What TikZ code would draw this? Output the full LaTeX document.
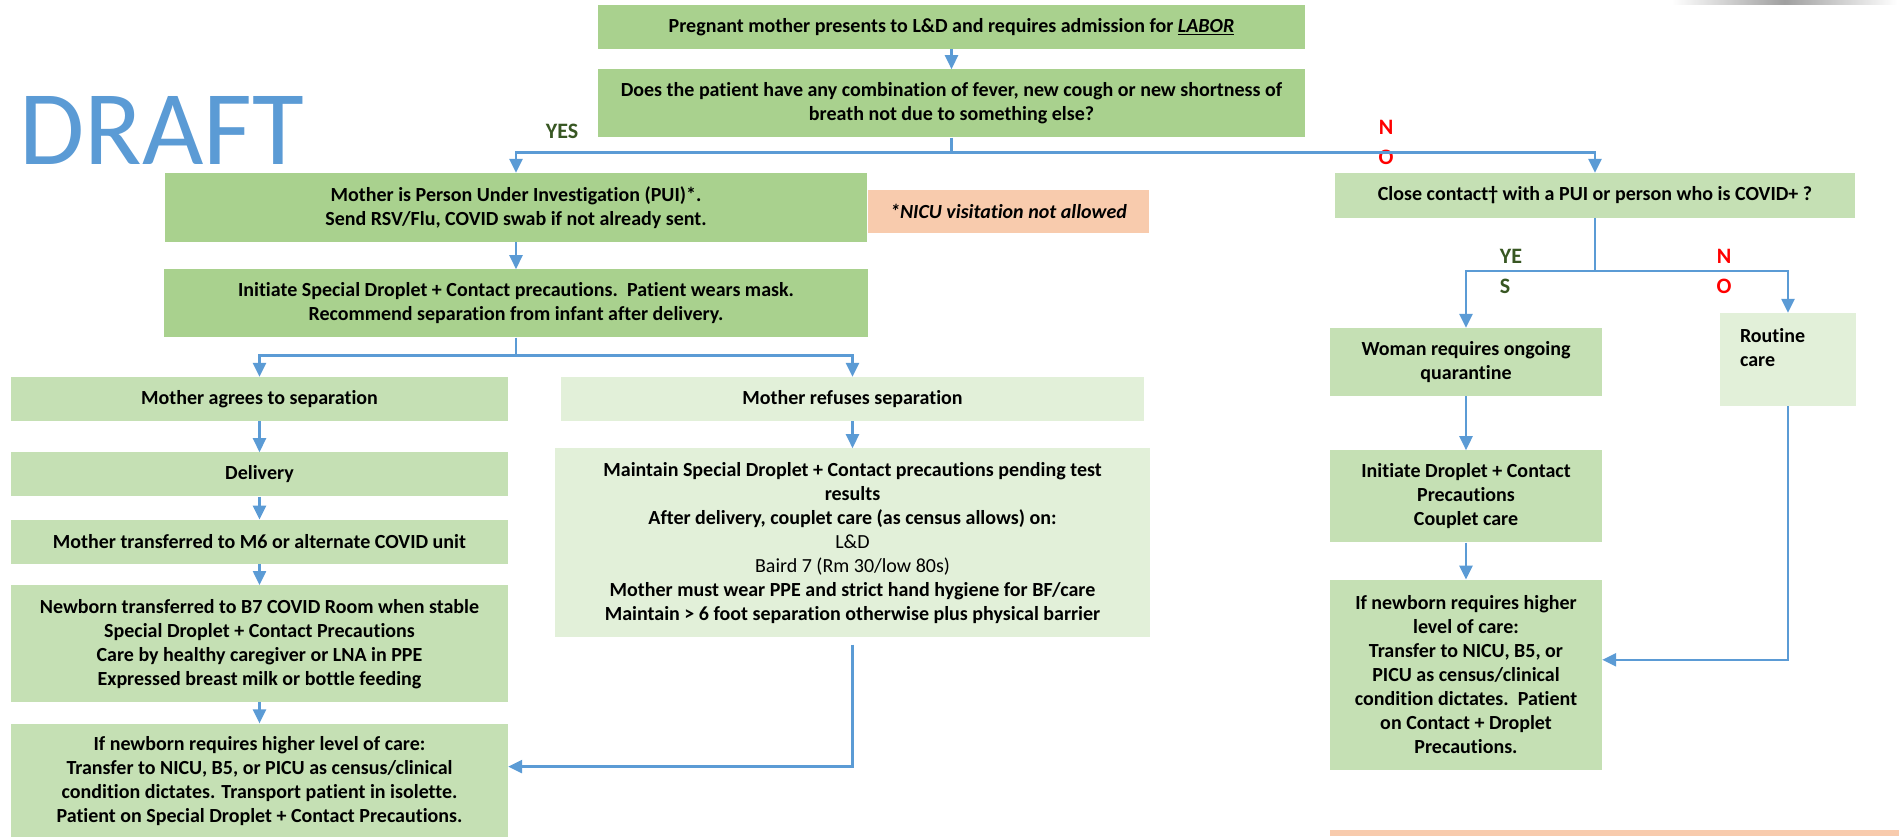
\documentclass[tikz,border=0pt]{standalone}
\usepackage{fontspec}
\setmainfont{Carlito}[Ligatures=NoCommon]
\usetikzlibrary{positioning, arrows.meta}

\definecolor{boxdark}{HTML}{A9D18E}
\definecolor{boxmid}{HTML}{C5E0B4}
\definecolor{boxlight}{HTML}{E2F0D9}
\definecolor{notepeach}{HTML}{F8CBAD}
\definecolor{flowblue}{HTML}{5B9BD5}
\definecolor{yesgreen}{HTML}{385723}
\definecolor{nored}{HTML}{FF0000}

\begin{document}
\begin{tikzpicture}[x=1pt, y=-1pt,
        node distance=20pt,
        stepbox/.style={rectangle, fill=#1, inner sep=0pt, align=center,
          font=\fontsize{20}{24}\selectfont\bfseries},
        stepbox/.default=boxmid,
        plaintext/.style={inner sep=0pt, align=left, font=\fontsize{20}{24}\selectfont\bfseries},
        yeslabel/.style={inner sep=0pt, align=left, text=yesgreen,
          font=\fontsize{22}{30}\selectfont\bfseries},
        nolabel/.style={yeslabel, text=nored},
        link/.style={line width=2.5pt, draw=flowblue},
        arrow/.style={link, -{Triangle[length=14pt,width=13pt]}}
      ]
        \useasboundingbox (0,0) rectangle (1899,836);

        % watermark and page decorations
        \node[inner sep=0pt, text=flowblue, font=\fontsize{106}{106}\selectfont] (draft) at (162,130) {DRAFT};
        \shade[left color=white, right color=white, middle color=gray!75] (1672,0) rectangle (1897,4);
        \fill[notepeach] (1330,830) rectangle (1899,836);

        % admission and screening
        \node[stepbox=boxdark, minimum width=707pt, minimum height=44pt] (labor) at (951.5,27)
          {Pregnant mother presents to L\&D and requires admission for \underline{\textit{LABOR}}};
        \node[stepbox=boxdark, minimum width=707pt, minimum height=68pt, below=20pt of labor] (fever)
          {Does the patient have any combination of fever, new cough or new shortness of\\breath not due to something else?};

        % PUI branch
        \node[stepbox=boxdark, minimum width=702pt, minimum height=69pt] (pui) at (516,207.5)
          {Mother is Person Under Investigation (PUI)*.\\Send RSV/Flu, COVID swab if not already sent.};
        \node[stepbox=notepeach, minimum width=281pt, minimum height=43pt] (nicunote) at (1008.5,211.5)
          {\textit{*NICU visitation not allowed}};
        \node[stepbox=boxdark, minimum width=704pt, minimum height=68pt, below=27pt of pui] (sdc)
          {Initiate Special Droplet + Contact precautions.\ \ Patient wears mask.\\Recommend separation from infant after delivery.};

        \node[stepbox, minimum width=497pt, minimum height=44pt] (agrees) at (259.5,399) {Mother agrees to separation};
        \node[stepbox, minimum width=497pt, minimum height=44pt, below=31pt of agrees] (delivery) {Delivery};
        \node[stepbox, minimum width=497pt, minimum height=44pt, below=23pt of delivery] (motherm6)
          {Mother transferred to M6 or alternate COVID unit};
        \node[stepbox, minimum width=497pt, minimum height=117pt, below=21pt of motherm6] (newbornb7)
          {Newborn transferred to B7 COVID Room when stable\\Special Droplet + Contact Precautions\\Care by healthy caregiver or LNA in PPE\\Expressed breast milk or bottle feeding};
        \node[stepbox, minimum width=497pt, minimum height=114pt, below=21pt of newbornb7] (higherleft)
          {If newborn requires higher level of care:\\Transfer to NICU, B5, or PICU as census/clinical\\condition dictates. Transport patient in isolette.\\Patient on Special Droplet + Contact Precautions.};

        \node[stepbox=boxlight, minimum width=583pt, minimum height=44pt] (refuses) at (852.5,399) {Mother refuses separation};
        \node[stepbox=boxlight, minimum width=595pt, minimum height=189pt, below=27pt of refuses] (maintain)
          {Maintain Special Droplet + Contact precautions pending test\\results\\After delivery, couplet care (as census allows) on:\\{\mdseries L\&D}\\{\mdseries Baird 7 (Rm 30/low 80s)}\\Mother must wear PPE and strict hand hygiene for BF/care\\Maintain > 6 foot separation otherwise plus physical barrier};

        % close contact branch
        \node[stepbox, minimum width=520pt, minimum height=45pt] (contact) at (1595,195.5)
          {Close contact\textdagger\ with a PUI or person who is COVID+ ?};
        \node[stepbox, minimum width=272pt, minimum height=68pt] (quarantine) at (1466,362)
          {Woman requires ongoing\\quarantine};
        \node[stepbox, minimum width=272pt, minimum height=92pt, below=54pt of quarantine] (droplet)
          {Initiate Droplet + Contact\\Precautions\\Couplet care};
        \node[stepbox, minimum width=272pt, minimum height=190pt, below=37pt of droplet] (higherright)
          {If newborn requires higher\\level of care:\\Transfer to NICU, B5, or\\PICU as census/clinical\\condition dictates.\ \ Patient\\on Contact + Droplet\\Precautions.};
        \node[stepbox=boxlight, minimum width=136pt, minimum height=93pt] (routine) at (1788,359.5) {};
        \node[plaintext, anchor=north west] (routinetxt) at ([shift={(20pt,-15pt)}]routine.north west) {Routine\\care};

        % answer labels
        \node[yeslabel] (yes1) at (562,131) {YES};
        \node[nolabel, align=center] (no1) at (1386,142) {N\\O};
        \node[yeslabel] (yes2) at (1511,271) {YE\\S};
        \node[nolabel, align=center] (no2) at (1724,271) {N\\O};

        % connectors
        \draw[arrow] (labor) -- (fever);
        \draw[link] (fever.south) -- ++(0,15) coordinate (feversplit);
        \draw[arrow] (feversplit) -| (pui.north);
        \draw[arrow] (feversplit) -| (contact.north);
        \draw[arrow] (pui) -- (sdc);
        \draw[link] (sdc.south) -- ++(0,18) coordinate (sdcsplit);
        \draw[arrow] (sdcsplit) -| (agrees.north);
        \draw[arrow] (sdcsplit) -| (refuses.north);
        \draw[arrow] (agrees) -- (delivery);
        \draw[arrow] (delivery) -- (motherm6);
        \draw[arrow] (motherm6) -- (newbornb7);
        \draw[arrow] (newbornb7) -- (higherleft);
        \draw[arrow] (refuses) -- (maintain);
        \draw[arrow] ([yshift=-7pt]maintain.south) |- ([yshift=14pt]higherleft.east);
        \draw[link] (contact.south) -- ++(0,53) coordinate (contactsplit);
        \draw[arrow] (contactsplit) -| (quarantine.north);
        \draw[arrow] (contactsplit) -| (routine.north);
        \draw[arrow] (quarantine) -- (droplet);
        \draw[arrow] (droplet) -- (higherright);
        \draw[arrow] (routine.south) |- ([yshift=15pt]higherright.east);
      \end{tikzpicture}
\end{document}
